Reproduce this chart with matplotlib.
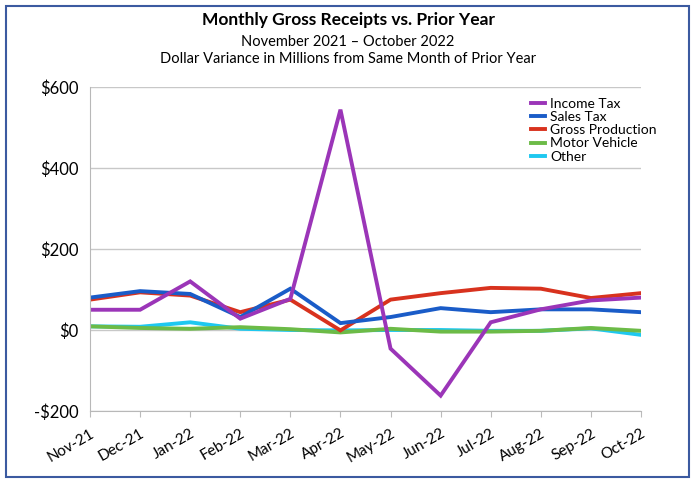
import matplotlib
matplotlib.use("Agg")
import matplotlib.pyplot as plt
from matplotlib.patches import Rectangle

months = ["Nov-21", "Dec-21", "Jan-22", "Feb-22", "Mar-22", "Apr-22",
          "May-22", "Jun-22", "Jul-22", "Aug-22", "Sep-22", "Oct-22"]
income_tax = [50, 50, 120, 28, 77, 544, -46, -162, 19, 51, 73, 80]
sales_tax = [80, 96, 89, 32, 102, 17, 32, 54, 44, 51, 51, 44]
gross_production = [75, 93, 85, 44, 75, -1, 75, 91, 104, 102, 79, 91]
motor_vehicle = [9, 5, 3, 7, 2, -6, 3, -4, -4, -2, 5, -2]
other = [9, 8, 19, 3, 0, -1, 0, 0, -2, -2, 4, -12]
y_ticks = [-200, 0, 200, 400, 600]
y_labels = ["-$200", "$0", "$200", "$400", "$600"]

plt.rcParams['font.family'] = ['Lato', 'DejaVu Sans']

fig = plt.figure(figsize=(6.96, 4.82), dpi=100)
W, H = 696, 482
ax = fig.add_axes([90 / W, 1 - 411 / H, (641 - 90) / W, (411 - 87) / H])

x = list(range(len(months)))
series = [
    ("Other", other, "#1ec8f0"),
    ("Motor Vehicle", motor_vehicle, "#6cbb47"),
    ("Gross Production", gross_production, "#d8321e"),
    ("Sales Tax", sales_tax, "#1a5cc8"),
    ("Income Tax", income_tax, "#9b35b8"),
]
lines = {}
for name, vals, col in series:
    ln, = ax.plot(x, vals, color=col, lw=2.8, solid_joinstyle='miter', label=name)
    lines[name] = ln

ax.set_xlim(0, len(months) - 1)
ax.set_ylim(-200, 600)
ax.set_yticks(y_ticks)
ax.set_yticklabels(y_labels, fontsize=12)
ax.tick_params(axis='y', length=0, pad=8)
ax.set_xticks(x)
ax.set_xticklabels(months, rotation=30, ha='right', rotation_mode='anchor', fontsize=11)
ax.tick_params(axis='x', length=4, color='#bbbbbb', pad=7)
ax.grid(axis='y', color='#c8c8c8', lw=1)
ax.set_axisbelow(True)
for s in ['top', 'right']:
    ax.spines[s].set_visible(False)
for s in ['left', 'bottom']:
    ax.spines[s].set_color('#b8b8b8')

order = ["Income Tax", "Sales Tax", "Gross Production", "Motor Vehicle", "Other"]
leg = ax.legend([lines[n] for n in order], order, loc='upper left',
                bbox_to_anchor=(0.78, 1.0), frameon=False, fontsize=10,
                handlelength=1.0, handletextpad=0.4, labelspacing=0.08,
                borderpad=0.3)

fig.text(0.5, 1 - 20 / H, "Monthly Gross Receipts vs. Prior Year", ha='center', va='center',
         fontsize=12.5, fontweight='bold')
fig.text(0.5, 1 - 42 / H, "November 2021 \u2013 October 2022", ha='center', va='center', fontsize=10.5)
fig.text(0.5, 1 - 59 / H, "Dollar Variance in Millions from Same Month of Prior Year",
         ha='center', va='center', fontsize=10.5)

fig.patches.append(Rectangle((6 / W, 1 - 477 / H), (689 - 6) / W, (477 - 6) / H,
                             transform=fig.transFigure, fill=False, ec='#3b5aa0', lw=1.5))

fig.savefig("out.png", dpi=100)
